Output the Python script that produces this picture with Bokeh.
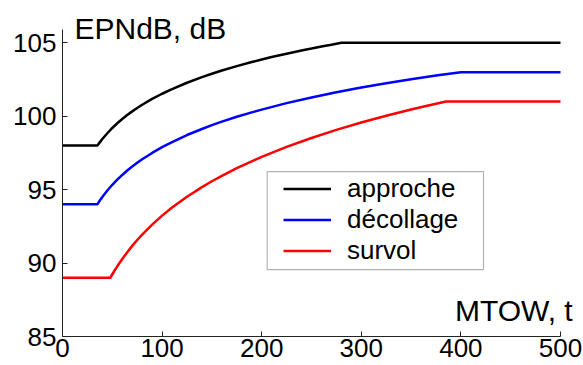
from bokeh.plotting import figure
from bokeh.models import Range1d, Label, Legend, LegendItem, BoxAnnotation, FixedTicker
from bokeh.embed import file_html
from bokeh.resources import INLINE

# Maximum take-off weight (t) and certification noise limits (EPNdB)
mtow_approche = [0, 35, 38, 40, 45, 50, 55, 60, 65, 70, 75, 80, 90, 100, 110, 125, 140, 150,
                 160, 175, 190, 200, 210, 225, 240, 250, 260, 270, 280, 500]
epn_approche = [98.0, 98.0, 98.27, 98.45, 98.84, 99.2, 99.52, 99.81, 100.08, 100.33, 100.56,
                100.78, 101.18, 101.53, 101.85, 102.28, 102.66, 102.89, 103.11, 103.41,
                103.69, 103.86, 104.03, 104.26, 104.48, 104.61, 104.75, 104.87, 105.0, 105.0]

mtow_decollage = [0, 35, 38, 40, 45, 50, 55, 60, 65, 70, 75, 80, 90, 100, 110, 125, 140, 150,
                  160, 175, 190, 200, 225, 250, 275, 300, 325, 350, 375, 400, 500]
epn_decollage = [94.0, 94.0, 94.31, 94.5, 94.94, 95.33, 95.68, 96.0, 96.3, 96.57, 96.83,
                 97.07, 97.5, 97.89, 98.24, 98.72, 99.13, 99.39, 99.63, 99.96, 100.26,
                 100.45, 100.89, 101.28, 101.63, 101.95, 102.25, 102.52, 102.77, 103.0, 103.0]

mtow_survol = [0, 48, 52, 55, 60, 65, 70, 75, 80, 90, 100, 110, 125, 140, 150, 160, 175, 190,
               200, 225, 250, 275, 300, 325, 350, 365, 385, 500]
epn_survol = [89.0, 89.0, 89.46, 89.78, 90.28, 90.74, 91.17, 91.57, 91.94, 92.62, 93.23,
              93.78, 94.52, 95.17, 95.57, 95.94, 96.46, 96.93, 97.23, 97.91, 98.52, 99.07,
              99.57, 100.03, 100.46, 100.7, 101.0, 101.0]

x_ticks = [0, 100, 200, 300, 400, 500]
y_ticks = [85, 90, 95, 100, 105]

FONT = "Liberation Sans"

p = figure(width=583, height=365, output_backend="svg", toolbar_location=None,
           x_range=Range1d(0, 523.1), y_range=Range1d(85, 107.88),
           min_border_left=62, min_border_right=0, min_border_top=0, min_border_bottom=29)
p.outline_line_color = None
p.xgrid.grid_line_color = None
p.ygrid.grid_line_color = None
p.background_fill_color = "white"
p.border_fill_color = "white"

for ax in (p.xaxis[0], p.yaxis[0]):
    ax.major_label_text_font = FONT
    ax.major_label_text_font_size = "26px"
    ax.major_label_text_color = "black"
    ax.axis_line_color = "#222222"
    ax.axis_line_width = 1
    ax.major_tick_line_color = "#222222"
    ax.major_tick_in = 5
    ax.major_tick_out = 0
    ax.minor_tick_line_color = None
p.xaxis.ticker = FixedTicker(ticks=x_ticks)
p.yaxis.ticker = FixedTicker(ticks=y_ticks)
p.xaxis.bounds = (0, 500)
p.yaxis.bounds = (85, 105.9)
p.xaxis.major_label_standoff = 2
p.yaxis.major_label_standoff = 6

r_app = p.line(mtow_approche, epn_approche, line_color="black", line_width=2.5)
r_dec = p.line(mtow_decollage, epn_decollage, line_color="#0000ff", line_width=2.5)
r_sur = p.line(mtow_survol, epn_survol, line_color="#ff0000", line_width=2.5)

# Legend frame
p.add_layout(BoxAnnotation(left=205.5, right=422.7, top=96.23, bottom=89.56,
                           fill_color="white", fill_alpha=1.0,
                           line_color="black", line_width=1.2))

legend = Legend(items=[LegendItem(label="approche", renderers=[r_app]),
                       LegendItem(label="décollage", renderers=[r_dec]),
                       LegendItem(label="survol", renderers=[r_sur])],
                location=(221, 70), margin=0, padding=0, spacing=0,
                glyph_width=48, glyph_height=31, label_height=31,
                label_standoff=16, label_text_font=FONT,
                label_text_font_size="26px", label_text_color="black",
                background_fill_alpha=0, border_line_color=None)
p.add_layout(legend)

p.add_layout(Label(x=12, y=105.97, text="EPNdB, dB", text_font=FONT,
                   text_font_size="30px", text_color="black",
                   text_baseline="alphabetic", text_align="left"))
p.add_layout(Label(x=394, y=86.77, text="MTOW, t", text_font=FONT,
                   text_font_size="30px", text_color="black",
                   text_baseline="alphabetic", text_align="left"))

open("out.html", "w").write(file_html(p, INLINE))
